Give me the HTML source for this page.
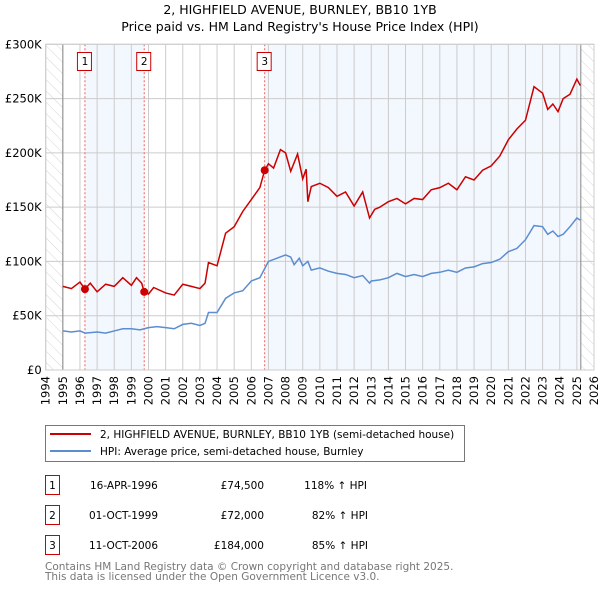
<!DOCTYPE html>
<html><head><meta charset="utf-8">
<style>
body{margin:0;background:#fff;font-family:"DejaVu Sans","Liberation Sans",sans-serif;}
svg text{font-family:"DejaVu Sans","Liberation Sans",sans-serif;}
</style></head>
<body>
<svg id="chart" width="600" height="590" viewBox="0 0 600 590" xmlns="http://www.w3.org/2000/svg">
<defs>
<pattern id="hatch" width="8" height="8" patternUnits="userSpaceOnUse" patternTransform="rotate(-45)">
<line x1="0" y1="0" x2="0" y2="8" stroke="#d4d4d4" stroke-width="1"/>
</pattern>
</defs>
<text x="300" y="14" text-anchor="middle" font-size="12.5" fill="#000">2, HIGHFIELD AVENUE, BURNLEY, BB10 1YB</text>
<text x="300" y="31" text-anchor="middle" font-size="12.5" fill="#000">Price paid vs. HM Land Registry's House Price Index (HPI)</text>
<g id="plot"></g>
<g id="legend">
<rect x="45.5" y="425.5" width="419" height="36" fill="#fff" stroke="#777"/>
<line x1="50" y1="434" x2="91" y2="434" stroke="#cc0000" stroke-width="2"/>
<text x="100" y="438" font-size="10.5">2, HIGHFIELD AVENUE, BURNLEY, BB10 1YB (semi-detached house)</text>
<line x1="50" y1="451" x2="91" y2="451" stroke="#5b8dd0" stroke-width="2"/>
<text x="100" y="455" font-size="10.5">HPI: Average price, semi-detached house, Burnley</text>
</g>
<g id="table" font-size="10.5">
<rect x="45.5" y="475.5" width="14" height="19" fill="#fff" stroke="#c00"/><text x="52.5" y="489" text-anchor="middle">1</text>
<text x="90" y="489">16-APR-1996</text><text x="264" y="489" text-anchor="end">£74,500</text><text x="367" y="489" text-anchor="end">118% ↑ HPI</text>
<rect x="45.5" y="505.5" width="14" height="19" fill="#fff" stroke="#c00"/><text x="52.5" y="519" text-anchor="middle">2</text>
<text x="89" y="519">01-OCT-1999</text><text x="264" y="519" text-anchor="end">£72,000</text><text x="368" y="519" text-anchor="end">82% ↑ HPI</text>
<rect x="45.5" y="535.5" width="14" height="19" fill="#fff" stroke="#c00"/><text x="52.5" y="549" text-anchor="middle">3</text>
<text x="89" y="549">11-OCT-2006</text><text x="264" y="549" text-anchor="end">£184,000</text><text x="368" y="549" text-anchor="end">85% ↑ HPI</text>
</g>
<text x="45" y="570" font-size="10.5" fill="#777">Contains HM Land Registry data © Crown copyright and database right 2025.</text>
<text x="45" y="580" font-size="10.5" fill="#777">This data is licensed under the Open Government Licence v3.0.</text>
</svg>
<script>
const yTicks=[0,50,100,150,200,250,300];
const yTickLabels=["£0","£50K","£100K","£150K","£200K","£250K","£300K"];
const years=[1994,1995,1996,1997,1998,1999,2000,2001,2002,2003,2004,2005,2006,2007,2008,2009,2010,2011,2012,2013,2014,2015,2016,2017,2018,2019,2020,2021,2022,2023,2024,2025,2026];
const saleDates=[1996.29,1999.75,2006.78];
const salePrices=[74.5,72,184];
const saleLabels=["1","2","3"];
const hpiT=[1995,1995.5,1996,1996.3,1997,1997.5,1998,1998.5,1999,1999.5,2000,2000.5,2001,2001.5,2002,2002.5,2003,2003.3,2003.5,2004,2004.5,2005,2005.5,2006,2006.5,2007,2007.5,2008,2008.3,2008.5,2008.8,2009,2009.3,2009.5,2010,2010.5,2011,2011.5,2012,2012.5,2012.9,2013,2013.5,2014,2014.5,2015,2015.5,2016,2016.5,2017,2017.5,2018,2018.5,2019,2019.5,2020,2020.5,2021,2021.5,2022,2022.5,2023,2023.3,2023.6,2023.9,2024.2,2024.6,2025,2025.2];
const hpiV=[36,35,36,34,35,34,36,38,38,37,39,40,39,38,42,43,41,43,53,53,66,71,73,82,85,100,103,106,104,97,103,96,100,92,94,91,89,88,85,87,80,82,83,85,89,86,88,86,89,90,92,90,94,95,98,99,102,109,112,120,133,132,125,128,123,125,132,140,138];
const propT=[1995,1995.5,1996,1996.29,1996.6,1997,1997.5,1998,1998.5,1999,1999.3,1999.6,1999.75,2000,2000.3,2001,2001.5,2002,2002.5,2003,2003.3,2003.5,2004,2004.5,2005,2005.5,2006,2006.5,2006.78,2007,2007.3,2007.7,2008,2008.3,2008.7,2009,2009.2,2009.3,2009.5,2010,2010.5,2011,2011.5,2012,2012.5,2012.9,2013.2,2013.5,2014,2014.5,2015,2015.5,2016,2016.5,2017,2017.5,2018,2018.5,2019,2019.5,2020,2020.5,2021,2021.5,2022,2022.5,2023,2023.3,2023.6,2023.9,2024.2,2024.6,2025,2025.2];
const propV=[77,75,81,74.5,80,72,79,77,85,78,85,80,72,70,76,71,69,79,77,75,80,99,96,126,132,146,157,168,184,190,186,203,200,183,199,176,185,155,169,172,168,160,164,151,164,140,148,150,155,158,153,158,157,166,168,172,166,178,175,184,188,197,212,222,230,261,255,240,245,238,250,254,268,262];

const NS="http://www.w3.org/2000/svg";
const X0=45.7,X1=594,Y0=370,Y1=44.3;
function xs(t){return X0+(t-1994)/32*(X1-X0);}
function ys(v){return Y0-v/300*(Y0-Y1);}
const g=document.getElementById('plot');
function mk(tag,attrs){const e=document.createElementNS(NS,tag);for(const k in attrs)e.setAttribute(k,attrs[k]);g.appendChild(e);return e;}
let e;
e=mk('rect',{x:X0,y:Y1,width:X1-X0,height:Y0-Y1,fill:'#fff'});


e=mk('rect',{x:xs(saleDates[0]),y:Y1,width:xs(saleDates[1])-xs(saleDates[0]),height:Y0-Y1,fill:'#f3f7fe'});


e=mk('rect',{x:xs(saleDates[2]),y:Y1,width:xs(2025.23)-xs(saleDates[2]),height:Y0-Y1,fill:'#f3f7fe'});


e=mk('rect',{x:X0,y:Y1,width:xs(1995)-X0,height:Y0-Y1,fill:'url(#hatch)'});


e=mk('rect',{x:xs(2025.23),y:Y1,width:X1-xs(2025.23),height:Y0-Y1,fill:'url(#hatch)'});


years.forEach(y=>{
 e=mk('line',{x1:xs(y),x2:xs(y),y1:Y1,y2:Y0,stroke:'#ccc','stroke-width':1});
 
 
 const t=mk('text',{transform:`translate(${xs(y)+4},${Y0+6}) rotate(-90)`,'text-anchor':'end','font-size':'11.5'});
 t.textContent=y;
 
 
});
yTicks.forEach((v,i)=>{
 e=mk('line',{x1:X0,x2:X1,y1:ys(v),y2:ys(v),stroke:'#ccc','stroke-width':1});
 
 
 const t=mk('text',{x:X0-4,y:ys(v)+4,'text-anchor':'end','font-size':'11.5'});
 t.textContent=yTickLabels[i];
 
 
});
e=mk('line',{x1:xs(1995),x2:xs(1995),y1:Y1,y2:Y0,stroke:'#888'});


e=mk('line',{x1:xs(2025.23),x2:xs(2025.23),y1:Y1,y2:Y0,stroke:'#888'});


saleDates.forEach((d,i)=>{
 e=mk('line',{x1:xs(d),x2:xs(d),y1:Y1,y2:Y0,stroke:'#f06060','stroke-dasharray':'2,2'});
 
 
 e=mk('rect',{x:xs(d)-7.5,y:52.5,width:14,height:18,fill:'#fff',stroke:'#c00'});
 
 
 const t=mk('text',{x:xs(d),y:65,'text-anchor':'middle','font-size':'10.5'});
 t.textContent=saleLabels[i];
 
 
});
e=mk('polyline',{points:hpiT.map((t,i)=>xs(t)+','+ys(hpiV[i])).join(' '),fill:'none',stroke:'#5b8dd0','stroke-width':1.5});


e=mk('polyline',{points:propT.map((t,i)=>xs(t)+','+ys(propV[i])).join(' '),fill:'none',stroke:'#cc0000','stroke-width':1.5});


saleDates.forEach((d,i)=>{
 e=mk('circle',{cx:xs(d),cy:ys(salePrices[i]),r:4,fill:'#cc0000'});
 
 
});
e=mk('rect',{x:X0,y:Y1,width:X1-X0,height:Y0-Y1,fill:'none',stroke:'#ccc'});


</script>
</body></html>
